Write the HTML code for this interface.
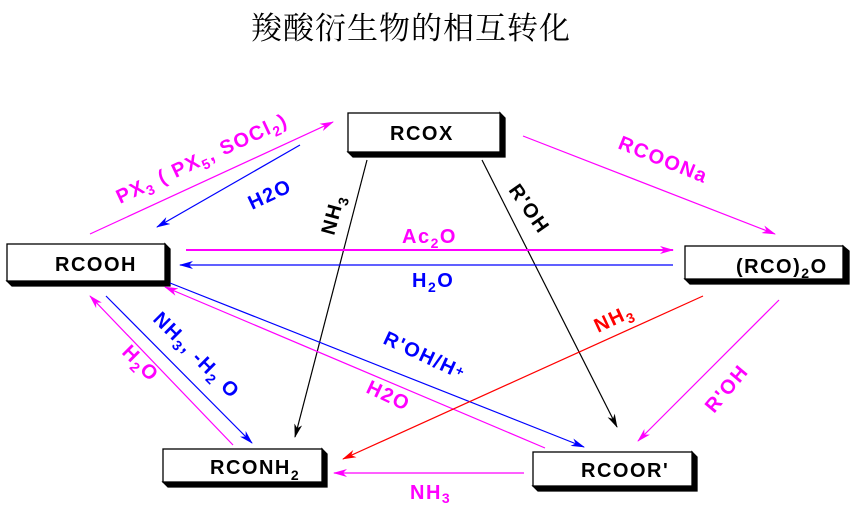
<!DOCTYPE html>
<html><head><meta charset="utf-8"><style>
html,body{margin:0;padding:0;background:#fff;}
svg{display:block;}
text{font-family:"Liberation Sans",sans-serif;font-weight:bold;letter-spacing:1.5px;}
</style></head><body>
<svg width="856" height="507" viewBox="0 0 856 507" xmlns="http://www.w3.org/2000/svg">
<defs>
<marker id="mk" markerWidth="14" markerHeight="8" refX="13" refY="4" orient="auto" markerUnits="userSpaceOnUse"><path d="M0,0 L14,4 L0,8 L4,4 Z" fill="#000"/></marker>
<marker id="mm" markerWidth="14" markerHeight="8" refX="13" refY="4" orient="auto" markerUnits="userSpaceOnUse"><path d="M0,0 L14,4 L0,8 L4,4 Z" fill="#f0f"/></marker>
<marker id="mb" markerWidth="14" markerHeight="8" refX="13" refY="4" orient="auto" markerUnits="userSpaceOnUse"><path d="M0,0 L14,4 L0,8 L4,4 Z" fill="#00f"/></marker>
<marker id="mr" markerWidth="14" markerHeight="8" refX="13" refY="4" orient="auto" markerUnits="userSpaceOnUse"><path d="M0,0 L14,4 L0,8 L4,4 Z" fill="#f00"/></marker>
</defs>
<text x="411" y="39" text-anchor="middle" font-size="31" style="font-family:'Noto Serif CJK SC','Noto Sans CJK SC',serif;font-weight:normal;letter-spacing:1px">羧酸衍生物的相互转化</text>

<g stroke="#000" stroke-width="1.3">
<polygon points="348,152 353,157 505,157 505,118 500,113 500,152" fill="#000"/>
<rect x="348" y="113" width="152" height="39" fill="#fff"/>
<polygon points="7,281 12,286 170,286 170,249 165,244 165,281" fill="#000"/>
<rect x="7" y="244" width="158" height="37" fill="#fff"/>
<polygon points="685,279 690,284 849,284 849,251 843,246 843,279" fill="#000"/>
<rect x="685" y="246" width="158" height="33" fill="#fff"/>
<polygon points="163,482 168,487 327,487 327,454 322,449 322,482" fill="#000"/>
<rect x="163" y="449" width="159" height="33" fill="#fff"/>
<polygon points="533,486 538,491 697,491 697,457 692,452 692,486" fill="#000"/>
<rect x="533" y="452" width="159" height="34" fill="#fff"/>
</g>
<text x="390" y="140" font-size="20">RCOX</text>
<text x="55" y="271" font-size="20">RCOOH</text>
<text x="736" y="273" font-size="20">(RCO)<tspan font-size="14" dy="5">2</tspan><tspan dy="-5">O</tspan></text>
<text x="210" y="474" font-size="20">RCONH<tspan font-size="14" dy="6">2</tspan></text>
<text x="581" y="477" font-size="20">RCOOR'</text>

<g fill="none" stroke-width="1.2">
<line x1="90" y1="234" x2="333" y2="122" stroke="#f0f" marker-end="url(#mm)"/>
<line x1="300" y1="145" x2="157" y2="227" stroke="#00f" marker-end="url(#mb)"/>
<line x1="367" y1="160" x2="295" y2="437" stroke="#000" marker-end="url(#mk)"/>
<line x1="482" y1="160" x2="617" y2="427" stroke="#000" marker-end="url(#mk)"/>
<line x1="523" y1="136" x2="775" y2="234" stroke="#f0f" marker-end="url(#mm)"/>
<line x1="186" y1="250" x2="673" y2="250" stroke="#f0f" stroke-width="2" marker-end="url(#mm)"/>
<line x1="673" y1="265" x2="180" y2="265" stroke="#00f" marker-end="url(#mb)"/>
<line x1="170" y1="283" x2="584" y2="447" stroke="#00f" marker-end="url(#mb)"/>
<line x1="545" y1="448" x2="165" y2="287" stroke="#f0f" marker-end="url(#mm)"/>
<line x1="703" y1="296" x2="343" y2="459" stroke="#f00" marker-end="url(#mr)"/>
<line x1="779" y1="300" x2="638" y2="441" stroke="#f0f" marker-end="url(#mm)"/>
<line x1="233" y1="445" x2="90" y2="296" stroke="#f0f" marker-end="url(#mm)"/>
<line x1="106" y1="296" x2="252" y2="443" stroke="#00f" marker-end="url(#mb)"/>
<line x1="524" y1="473" x2="334" y2="473" stroke="#f0f" marker-end="url(#mm)"/>
</g>

<text transform="translate(120,204) rotate(-25)" font-size="20" fill="#f0f">PX<tspan font-size="14" dy="5">3</tspan><tspan dy="-5"> ( PX</tspan><tspan font-size="14" dy="5">5</tspan><tspan dy="-5">, SOCl</tspan><tspan font-size="14" dy="5">2</tspan><tspan dy="-5">)</tspan></text>
<text transform="translate(252,210) rotate(-25)" font-size="20" fill="#00f">H2O</text>
<text transform="translate(334,236) rotate(-75)" font-size="20" fill="#000">NH<tspan font-size="14" dy="5">3</tspan></text>
<text transform="translate(508,190) rotate(55)" font-size="20" fill="#000">R'OH</text>
<text transform="translate(617,148) rotate(22)" font-size="20" fill="#f0f">RCOONa</text>
<text x="402" y="243" font-size="20" fill="#f0f">Ac<tspan font-size="14" dy="5">2</tspan><tspan dy="-5">O</tspan></text>
<text x="412" y="287" font-size="20" fill="#00f">H<tspan font-size="14" dy="5">2</tspan><tspan dy="-5">O</tspan></text>
<text transform="translate(382,343) rotate(25)" font-size="20" fill="#00f">R'OH/H<tspan font-size="14" dy="-3">+</tspan></text>
<text transform="translate(365,392) rotate(25)" font-size="20" fill="#f0f">H2O</text>
<text transform="translate(598,333) rotate(-25)" font-size="20" fill="#f00">NH<tspan font-size="14" dy="5">3</tspan></text>
<text transform="translate(714,414) rotate(-50)" font-size="20" fill="#f0f">R'OH</text>
<text transform="translate(152,320) rotate(45)" font-size="20" fill="#00f">NH<tspan font-size="14" dy="5">3</tspan><tspan dy="-5">, -H</tspan><tspan font-size="14" dy="5">2</tspan><tspan dy="-5"> O</tspan></text>
<text transform="translate(121,353) rotate(45)" font-size="20" fill="#f0f">H<tspan font-size="14" dy="5">2</tspan><tspan dy="-5">O</tspan></text>
<text x="410" y="499" font-size="20" fill="#f0f">NH<tspan font-size="14" dy="4">3</tspan></text>
</svg>
</body></html>
